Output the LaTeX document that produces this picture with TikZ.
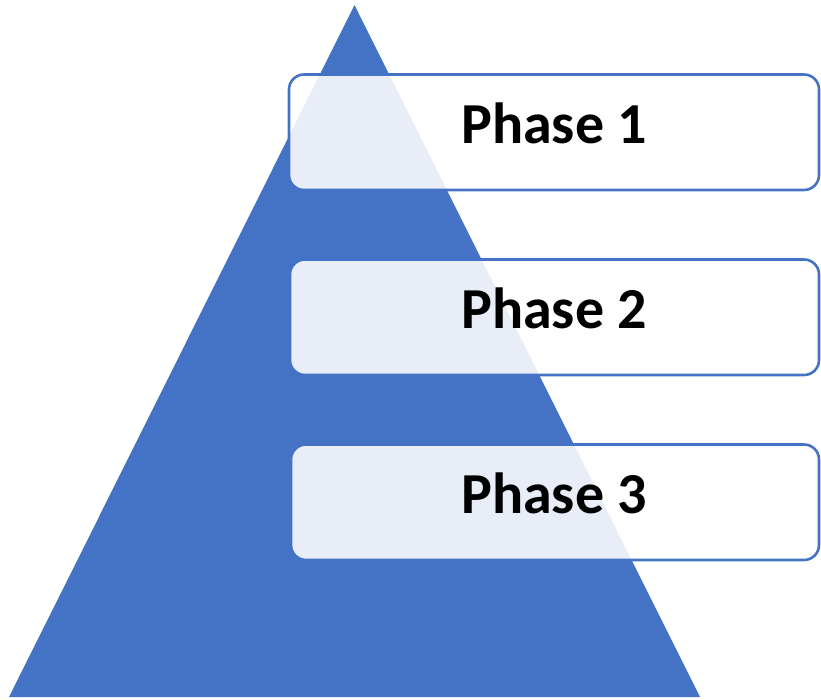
\documentclass[tikz,border=0pt]{standalone}
\usepackage{fontspec}
\setmainfont{Carlito}
\definecolor{tri}{HTML}{4472C4}
\begin{document}
\begin{tikzpicture}[x=1pt,y=-1pt,
  phasebox/.style={draw=tri,line width=2.6pt,fill=white,fill opacity=0.88,rounded corners=15pt},
  phaselabel/.style={anchor=base,font=\fontsize{58}{60}\selectfont\bfseries,text=black,inner sep=0pt}]
\useasboundingbox (0,0) rectangle (821,699);
\fill[tri] (354.5,5) -- (700,697) -- (9,697) -- cycle;
\draw[phasebox] (289,74.5) rectangle (819,190);
\draw[phasebox] (290,259.5) rectangle (819,375);
\draw[phasebox] (291,444.5) rectangle (819,560);
\node[phaselabel] (p1) at (554,143) {Phase 1};
\node[phaselabel] (p2) at (554,328) {Phase 2};
\node[phaselabel] (p3) at (554,513) {Phase 3};
\end{tikzpicture}
\end{document}
